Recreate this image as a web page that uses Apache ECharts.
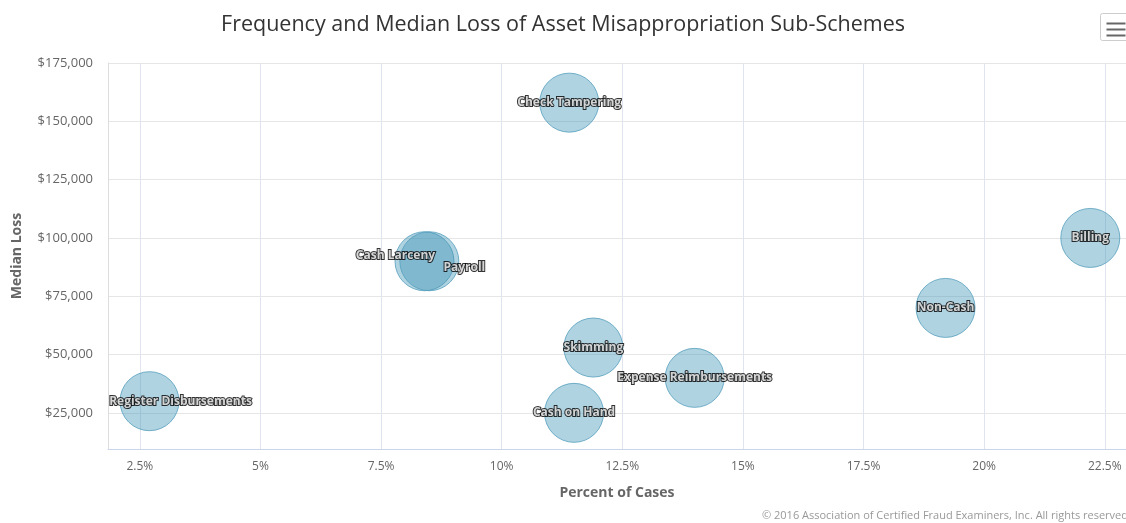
<!DOCTYPE html>
<html>
<head>
<meta charset="utf-8">
<title>Asset Misappropriation Sub-Schemes</title>
<script src="https://cdn.jsdelivr.net/npm/echarts@6/dist/echarts.min.js"></script>
<style>
  html, body { margin: 0; padding: 0; background: #fff; }
  #chart { width: 1126px; height: 523px; }
</style>
</head>
<body>
<div id="chart"></div>
<script>
// data
var schemes = ['Billing', 'Non-Cash', 'Expense Reimbursements', 'Check Tampering', 'Skimming',
               'Cash on Hand', 'Cash Larceny', 'Payroll', 'Register Disbursements'];
var pctCases = [22.2, 19.2, 14.0, 11.4, 11.9, 11.5, 8.4, 8.5, 2.7];
var medianLoss = [100000, 70000, 40000, 158000, 53000, 25000, 90000, 90000, 30000];
var xTicks = [2.5, 5, 7.5, 10, 12.5, 15, 17.5, 20, 22.5];
var yTicks = [25000, 50000, 75000, 100000, 125000, 150000, 175000];

// labels that got pushed around in the original
var labelNudge = {
  'Cash Larceny': [-29, -6],
  'Payroll': [35, 6],
  'Register Disbursements': [31, 0]
};

var font = "'Open Sans', sans-serif";

var chart = echarts.init(document.getElementById('chart'));

var points = schemes.map(function (name, i) {
  var item = { name: name, value: [pctCases[i], medianLoss[i]] };
  if (labelNudge[name]) {
    item.label = { offset: labelNudge[name] };
  }
  return item;
});

var option = {
  animation: false,
  title: {
    text: 'Frequency and Median Loss of Asset Misappropriation Sub-Schemes',
    left: 'center',
    top: 9,
    textStyle: { fontFamily: font, fontSize: 21.5, fontWeight: 'normal', color: '#333' }
  },
  grid: { left: 108, right: 0, top: 63, bottom: 74, containLabel: false, outerBoundsMode: 'none' },
  xAxis: {
    type: 'value',
    min: 1.84,
    max: 22.94,
    name: 'Percent of Cases',
    nameLocation: 'middle',
    nameGap: 37,
    nameTextStyle: { fontFamily: font, fontSize: 14, fontWeight: 'bold', color: '#666' },
    axisLine: { show: true, lineStyle: { color: '#ccd6eb' } },
    axisTick: { show: false, customValues: xTicks },
    axisLabel: {
      customValues: xTicks,
      margin: 12,
      color: '#666',
      fontFamily: font,
      fontSize: 12,
      formatter: function (v) { return v + '%'; }
    },
    splitLine: { show: true, lineStyle: { color: '#e0e4ee' } }
  },
  yAxis: {
    type: 'value',
    min: 9500,
    max: 175000,
    name: 'Median Loss',
    nameLocation: 'middle',
    nameGap: 84,
    nameTextStyle: { fontFamily: font, fontSize: 14, fontWeight: 'bold', color: '#666' },
    axisLine: { show: true, lineStyle: { color: '#dddddd' } },
    axisTick: { show: false, customValues: yTicks },
    axisLabel: {
      customValues: yTicks,
      margin: 15,
      color: '#666',
      fontFamily: font,
      fontSize: 13,
      formatter: function (v) { return '$' + v.toLocaleString('en-US'); }
    },
    splitLine: { show: true, lineStyle: { color: '#e6e6e6' } }
  },
  series: [{
    type: 'scatter',
    symbolSize: 59,
    data: points,
    itemStyle: {
      color: 'rgba(58, 144, 180, 0.5)',
      borderColor: '#559fbd',
      borderWidth: 1
    },
    label: {
      show: true,
      position: 'inside',
      formatter: '{b}',
      color: '#fff',
      fontFamily: font,
      fontSize: 12,
      fontWeight: 'bold',
      textBorderColor: '#000',
      textBorderWidth: 2
    },
    emphasis: { disabled: true }
  }],
  graphic: [
    {
      type: 'group',
      left: 1100,
      top: 13,
      children: [
        { type: 'rect', shape: { x: 0, y: 0, width: 28, height: 27, r: 2 }, style: { fill: '#fff', stroke: '#cccccc', lineWidth: 1 } },
        { type: 'line', shape: { x1: 6, y1: 10, x2: 25, y2: 10 }, style: { stroke: '#666', lineWidth: 2 } },
        { type: 'line', shape: { x1: 6, y1: 16, x2: 25, y2: 16 }, style: { stroke: '#666', lineWidth: 2 } },
        { type: 'line', shape: { x1: 6, y1: 22, x2: 25, y2: 22 }, style: { stroke: '#666', lineWidth: 2 } }
      ]
    },
    {
      type: 'text',
      left: 762,
      top: 510,
      style: {
        text: '\u00a9 2016 Association of Certified Fraud Examiners, Inc. All rights reserved',
        fill: '#999',
        fontFamily: font,
        fontSize: 11
      }
    }
  ]
};

chart.setOption(option);
</script>
</body>
</html>
